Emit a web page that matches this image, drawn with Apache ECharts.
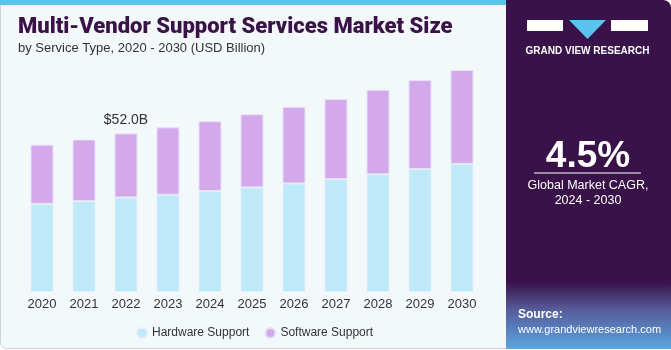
<!DOCTYPE html>
<html>
<head>
<meta charset="utf-8">
<script src="https://cdn.jsdelivr.net/npm/echarts@6/dist/echarts.min.js"></script>
<style>
  html, body { margin: 0; padding: 0; background: #ffffff; }
  #main { width: 671px; height: 350px; }
</style>
</head>
<body>
<div id="main"></div>
<script>
// data (USD Billion)
var years = ['2020', '2021', '2022', '2023', '2024', '2025', '2026', '2027', '2028', '2029', '2030']
var hardware = [28.9, 29.8, 31.0, 31.9, 33.1, 34.3, 35.6, 37.0, 38.6, 40.3, 42.0]
var software = [19.4, 20.2, 21.0, 22.1, 22.9, 24.0, 25.1, 26.3, 27.7, 29.2, 30.8]
var labelIndex = 2
var labelText = '$52.0B'

var chart = echarts.init(document.getElementById('main'))

var softwareData = software.map(function (v, i) {
  if (i !== labelIndex) return v
  return {
    value: v,
    label: {
      show: true,
      position: 'top',
      distance: 6,
      formatter: labelText,
      color: '#333',
      fontSize: 14,
      fontFamily: 'Liberation Sans'
    }
  }
})

// centred text helper for the side panel
function ctext(x, y, text, font) {
  return {
    type: 'text',
    x: x,
    y: y,
    style: { text: text, fill: '#ffffff', font: font, align: 'center', verticalAlign: 'middle' }
  }
}

var option = {
  backgroundColor: '#ffffff',
  animation: false,
  color: ['#bde9f8', '#d4a9ec'],
  grid: {
    left: 21,
    right: 188,
    top: 48,
    bottom: 58
  },
  legend: {
    data: ['Hardware Support', 'Software Support'],
    left: 131,
    top: 322,
    itemWidth: 10,
    itemHeight: 10,
    itemGap: 15,
    icon: 'circle',
    textStyle: { color: '#333', fontSize: 12, fontFamily: 'Liberation Sans' }
  },
  xAxis: {
    type: 'category',
    data: years,
    axisLine: { show: false },
    axisTick: { show: false },
    axisLabel: { color: '#333', fontSize: 13, margin: 6, fontFamily: 'Liberation Sans' }
  },
  yAxis: {
    type: 'value',
    min: 0,
    max: 80,
    show: false,
    splitLine: { show: false }
  },
  graphic: [
    // card background
    {
      type: 'rect',
      shape: { x: 0.5, y: 0.5, width: 520, height: 348, r: 6 },
      style: { fill: '#f3f8fb', stroke: '#cfd3d6', lineWidth: 1 },
      z: -10
    },
    {
      type: 'rect',
      shape: { x: 0, y: 0, width: 510, height: 5 },
      style: { fill: '#5bc3ee' },
      z: -9
    },
    // right panel
    {
      type: 'rect',
      shape: { x: 506, y: 0, width: 165, height: 349, r: [0, 8, 0, 0] },
      style: { fill: '#381249' },
      z: -8
    },
    {
      type: 'rect',
      shape: { x: 506, y: 282, width: 165, height: 67 },
      style: {
        fill: new echarts.graphic.LinearGradient(0, 0, 0, 1, [
          { offset: 0, color: 'rgba(56,18,73,1)' },
          { offset: 0.4, color: '#565a98' },
          { offset: 1, color: '#5aa6e0' }
        ])
      },
      z: -7
    },
    // logo
    {
      type: 'rect',
      shape: { x: 527, y: 20, width: 36, height: 11 },
      style: { fill: '#ffffff' }
    },
    {
      type: 'polygon',
      shape: { points: [[569, 20], [606, 20], [587.5, 39]] },
      style: { fill: '#5bc3ee' }
    },
    {
      type: 'rect',
      shape: { x: 611, y: 20, width: 37, height: 11 },
      style: { fill: '#ffffff' }
    },
    ctext(587.5, 51, 'GRAND VIEW RESEARCH', 'bold 10px "Liberation Sans"'),
    // CAGR
    ctext(588, 157, '4.5%', 'bold 37px "Liberation Sans"'),
    {
      type: 'line',
      shape: { x1: 534, y1: 173, x2: 641, y2: 173 },
      style: { stroke: '#ffffff', lineWidth: 1 }
    },
    ctext(588, 186, 'Global Market CAGR,', '12.5px "Liberation Sans"'),
    ctext(588, 201, '2024 - 2030', '12.5px "Liberation Sans"'),
    {
      type: 'text',
      left: 518,
      top: 309,
      style: { text: 'Source:', fill: '#ffffff', font: 'bold 12px "Liberation Sans"' }
    },
    {
      type: 'text',
      left: 518,
      top: 324,
      style: { text: 'www.grandviewresearch.com', fill: '#ffffff', font: '11px "Liberation Sans"' }
    },
    // titles
    {
      type: 'text',
      left: 18,
      top: 16,
      style: { text: 'Multi-Vendor Support Services Market Size', fill: '#3a1248', font: '900 22px Roboto' }
    },
    {
      type: 'text',
      left: 18,
      top: 42,
      style: { text: 'by Service Type, 2020 - 2030 (USD Billion)', fill: '#333', font: '13px "Liberation Sans"' }
    }
  ],
  series: [
    {
      name: 'Hardware Support',
      type: 'bar',
      stack: 'total',
      barWidth: 23,
      itemStyle: { borderColor: '#e6eefa', borderWidth: 1 },
      data: hardware
    },
    {
      name: 'Software Support',
      type: 'bar',
      stack: 'total',
      barWidth: 23,
      itemStyle: { borderColor: '#e6e2f6', borderWidth: 1 },
      data: softwareData
    }
  ]
}

chart.setOption(option)
</script>
</body>
</html>
